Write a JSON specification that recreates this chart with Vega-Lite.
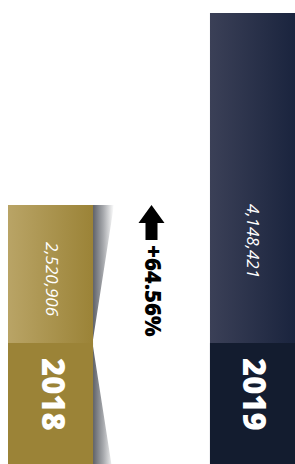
{
  "$schema": "https://vega.github.io/schema/vega-lite/v6.json",
  "width": 287,
  "height": 464,
  "autosize": "none",
  "padding": {"left": 8, "top": 0, "right": 0, "bottom": 0},
  "background": "white",
  "config": {"view": {"stroke": null}},
  "datasets": {
    "bars": [
      {"col": "2018", "value": 2520906, "label": "2,520,906"},
      {"col": "2019", "value": 4148421, "label": "4,148,421"}
    ],
    "change": [
      {"col": "change", "from": 2520906, "pct": "+64.56%"}
    ]
  },
  "data": {"name": "bars"},
  "encoding": {
    "x": {"field": "col", "type": "nominal", "scale": {"domain": ["2018", "change", "2019"], "paddingInner": 0.158, "paddingOuter": 0}, "axis": null},
    "y": {"field": "value", "type": "quantitative", "scale": {"domain": [325452, 4258622], "zero": false, "nice": false}, "axis": null}
  },
  "layer": [
    {
      "transform": [{"filter": "datum.col == '2018'"}],
      "mark": {"type": "point", "filled": true, "shape": "M0.324,-1 L0.49,-1 L0.324,0.066 L0.47,1 L0.324,1 Z", "size": 67081, "yOffset": 129.5, "opacity": 1, "strokeWidth": 0,
        "fill": {"gradient": "linear", "x1": 0, "y1": 0, "x2": 1, "y2": 0, "stops": [{"offset": 0, "color": "#5c5f66"}, {"offset": 0.5, "color": "#a6a8ac"}, {"offset": 1, "color": "#ffffff"}]}}
    },
    {
      "transform": [{"filter": "datum.col == '2018'"}],
      "mark": {"type": "bar", "color": {"gradient": "linear", "x1": 0, "y1": 0, "x2": 1, "y2": 0, "stops": [{"offset": 0, "color": "#b9a466"}, {"offset": 1, "color": "#9b8337"}]}},
      "encoding": {"y2": {"datum": 325452}}
    },
    {
      "transform": [{"filter": "datum.col == '2019'"}],
      "mark": {"type": "bar", "color": {"gradient": "linear", "x1": 0, "y1": 0, "x2": 1, "y2": 0, "stops": [{"offset": 0, "color": "#3b4057"}, {"offset": 1, "color": "#1a243e"}]}},
      "encoding": {"y2": {"datum": 325452}}
    },
    {
      "mark": {"type": "bar"},
      "encoding": {
        "y": {"datum": 1351128},
        "y2": {"datum": 325452},
        "color": {"field": "col", "type": "nominal", "scale": {"domain": ["2018", "2019"], "range": ["#9b8337", "#131c2f"]}, "legend": null}
      }
    },
    {
      "transform": [{"filter": "datum.col == '2018'"}],
      "mark": {"type": "text", "angle": 90, "align": "center", "baseline": "middle", "yOffset": 74, "font": "Open Sans", "fontStyle": "italic", "fontWeight": 400, "fontSize": 17, "color": "#ffffff"},
      "encoding": {"text": {"field": "label"}}
    },
    {
      "transform": [{"filter": "datum.col == '2019'"}],
      "mark": {"type": "text", "angle": 90, "align": "center", "baseline": "middle", "yOffset": 228, "font": "Open Sans", "fontStyle": "italic", "fontWeight": 400, "fontSize": 17, "color": "#ffffff"},
      "encoding": {"text": {"field": "label"}}
    },
    {
      "mark": {"type": "text", "angle": 90, "align": "left", "baseline": "middle", "dx": 15, "font": "Open Sans", "fontWeight": 800, "fontSize": 31, "color": "#ffffff"},
      "encoding": {"y": {"datum": 1351128}, "text": {"field": "col"}}
    },
    {
      "data": {"name": "change"},
      "mark": {"type": "point", "filled": true, "shape": "M0,-1 L0.743,0.03 L0.343,0.03 L0.343,1 L-0.343,1 L-0.343,0.03 L-0.743,0.03 Z", "size": 1225, "yOffset": 17.5, "opacity": 1, "strokeWidth": 0, "fill": "#000000"},
      "encoding": {"y": {"field": "from", "type": "quantitative"}}
    },
    {
      "data": {"name": "change"},
      "mark": {"type": "text", "angle": 90, "align": "left", "baseline": "middle", "dx": 40, "font": "Open Sans", "fontWeight": 800, "fontSize": 22, "color": "#000000"},
      "encoding": {"y": {"field": "from", "type": "quantitative"}, "text": {"field": "pct"}}
    }
  ]
}
